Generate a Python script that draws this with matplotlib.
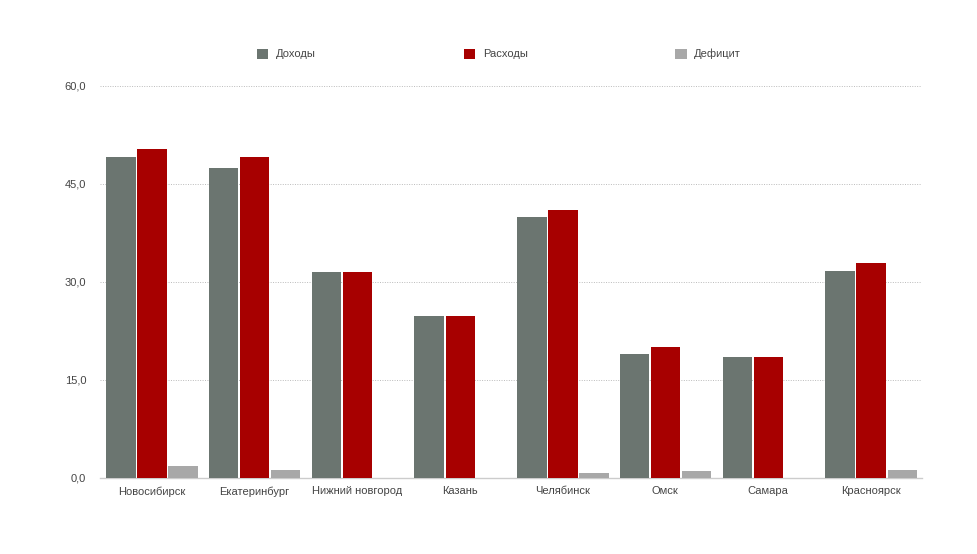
import matplotlib
matplotlib.use("Agg")
import matplotlib.pyplot as plt
from matplotlib.patches import Patch
import numpy as np

plt.rcParams['font.family'] = ['Liberation Sans', 'DejaVu Sans']

cities = ["Новосибирск", "Екатеринбург", "Нижний новгород", "Казань",
          "Челябинск", "Омск", "Самара", "Красноярск"]
income = [49.1, 47.4, 31.5, 24.8, 39.9, 19.0, 18.5, 31.7]
expenses = [50.4, 49.1, 31.5, 24.8, 41.0, 20.05, 18.5, 32.9]
deficit = [1.8, 1.2, 0.0, 0.0, 0.8, 1.1, 0.0, 1.2]
series_names = ["Доходы", "Расходы", "Дефицит"]
colors = ["#6b7570", "#a70000", "#a8a8a8"]
yticks = [0, 15, 30, 45, 60]
ytick_labels = ["0,0", "15,0", "30,0", "45,0", "60,0"]

fig = plt.figure(figsize=(9.77, 5.54), dpi=100)
ax = fig.add_axes([0.1024, 0.1372, 0.8413, 0.7076])

x = np.arange(len(cities))
w = 0.285
step = 0.302
for i, (vals, c) in enumerate(zip([income, expenses, deficit], colors)):
    ax.bar(x + (i - 1) * step + 0.005, vals, width=w, color=c, zorder=3)

ax.set_xlim(-0.5, len(cities) - 0.5)
ax.set_ylim(0, 60)
ax.set_yticks(yticks)
ax.set_yticklabels(ytick_labels)
ax.set_xticks(x)
ax.set_xticklabels(cities)
ax.tick_params(axis='both', length=0, labelsize=8, colors="#444444")
ax.tick_params(axis='y', pad=10)
ax.tick_params(axis='x', pad=6)
for s in ["top", "right", "left"]:
    ax.spines[s].set_visible(False)
ax.spines["bottom"].set_color("#cccccc")
ax.spines["bottom"].set_linewidth(1)
ax.yaxis.grid(True, linestyle=(0, (1, 1.5)), color="#bbbbbb", linewidth=0.7, zorder=0)
ax.set_axisbelow(True)

handles = [Patch(facecolor=c, edgecolor='none') for c in colors]
fig.legend(handles, series_names, loc='center', bbox_to_anchor=(0.511, 1 - 54 / 554),
           ncol=3, frameon=False, fontsize=8, labelcolor="#444444",
           handlelength=1.0, handleheight=1.0, handletextpad=0.7, columnspacing=13.3)

fig.savefig("out.png", dpi=100)
